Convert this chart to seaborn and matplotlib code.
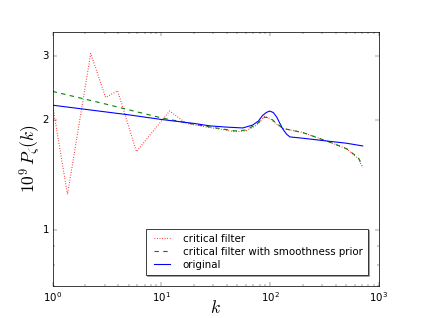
import numpy as np
import pandas as pd
import matplotlib
matplotlib.use("Agg")
import matplotlib.pyplot as plt
import seaborn as sns
from matplotlib.ticker import FixedLocator, NullFormatter, LogLocator

# --- data ---
k_orig = [1, 5, 10, 20, 28, 40, 56, 69, 78, 85, 92, 99, 107, 115, 123, 131, 142, 152, 200, 300, 500, 710]
p_orig = [2.20, 2.07, 2.01, 1.96, 1.93, 1.915, 1.905, 1.94, 1.99, 2.06, 2.10, 2.12, 2.10, 2.04, 1.96, 1.89, 1.83, 1.80, 1.785, 1.76, 1.73, 1.70]

k_smooth = [1, 3, 10, 20, 30, 47, 60, 75, 89, 100, 115, 131, 142, 200, 246, 355, 505, 645, 710]
p_smooth = [2.40, 2.22, 2.03, 1.95, 1.91, 1.87, 1.88, 1.95, 2.04, 2.03, 1.96, 1.90, 1.89, 1.85, 1.81, 1.74, 1.67, 1.58, 1.50]

k_crit = [1, 1.37, 2.24, 3.07, 3.96, 5.9, 11.9, 17, 25, 35, 47, 60, 75, 89, 100, 115, 131, 142, 200, 246, 355, 505, 645, 710]
p_crit = [2.20, 1.25, 3.05, 2.31, 2.41, 1.64, 2.12, 1.96, 1.92, 1.89, 1.86, 1.87, 1.94, 2.05, 2.02, 1.95, 1.90, 1.89, 1.85, 1.81, 1.74, 1.67, 1.57, 1.48]

labels = ["critical filter", "critical filter with smoothness prior", "original"]
yticks = [1, 2, 3]

df = pd.concat([
    pd.DataFrame({"k": k_crit, "P": p_crit, "series": labels[0]}),
    pd.DataFrame({"k": k_smooth, "P": p_smooth, "series": labels[1]}),
    pd.DataFrame({"k": k_orig, "P": p_orig, "series": labels[2]}),
])

plt.style.use("classic")
plt.rcParams["font.family"] = ["DejaVu Sans"]
plt.rcParams["mathtext.fontset"] = "dejavusans"

DPI = 52.625
fig = plt.figure(figsize=(421 / DPI, 318 / DPI), dpi=DPI, facecolor="white")
ax = fig.add_axes([0.125, 0.1, 0.775, 0.8])

palette = {labels[0]: (1, 0, 0), labels[1]: (0, 0.5, 0), labels[2]: (0, 0, 1)}
dashes = {labels[0]: (1, 2.5), labels[1]: (6, 6), labels[2]: ""}

sns.lineplot(data=df, x="k", y="P", hue="series", style="series",
             palette=palette, dashes=dashes, hue_order=labels, style_order=labels,
             sort=False, estimator=None, lw=1.5, ax=ax)

ax.set_xscale("log")
ax.set_yscale("log")
ax.set_xlim(1, 1000)
ax.set_ylim(0.7, 3.5)

ax.yaxis.set_major_locator(FixedLocator(yticks))
ax.set_yticklabels([str(t) for t in yticks])
ax.yaxis.set_minor_locator(FixedLocator([0.7, 0.8, 0.9]))
ax.yaxis.set_minor_formatter(NullFormatter())
ax.xaxis.set_major_locator(LogLocator(base=10))
ax.xaxis.set_minor_locator(LogLocator(base=10, subs=np.arange(2, 10)))
ax.xaxis.set_minor_formatter(NullFormatter())

ax.tick_params(which="both", direction="in", top=True, right=True, labelsize=14)
ax.tick_params(which="major", length=5, pad=5)
ax.tick_params(which="minor", length=2.5)
for s in ax.spines.values():
    s.set_linewidth(1.0)

ax.set_xlabel("$k$", fontsize=24, math_fontfamily="cm", labelpad=-7)
ax.set_ylabel("$10^9\\,P_\\zeta(k)$", fontsize=24, math_fontfamily="cm", labelpad=0)

handles, lbls = ax.get_legend_handles_labels()
leg = ax.legend(handles, lbls, loc="lower right", fontsize=14, shadow=True,
                fancybox=False, frameon=True, handlelength=2.2, borderpad=0.5,
                labelspacing=0.3, borderaxespad=1.1, handletextpad=0.9)
leg.get_frame().set_edgecolor("black")

fig.savefig("out.png", dpi=DPI, facecolor="white")
